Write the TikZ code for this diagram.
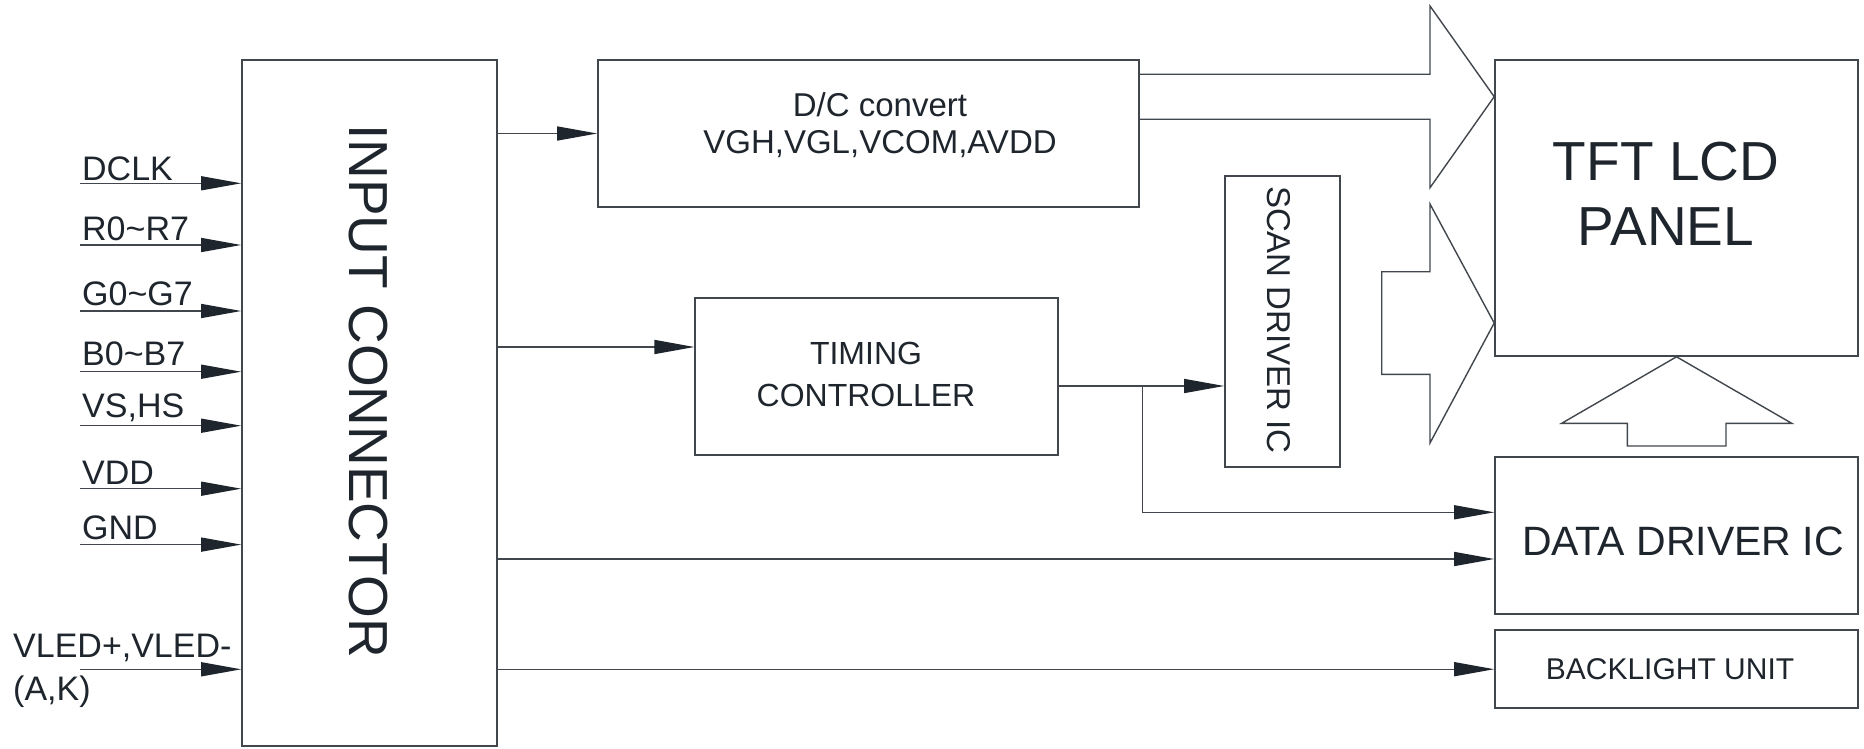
\documentclass[tikz,border=0pt]{standalone}
\usepackage{fontspec}
\setmainfont{Liberation Sans}
\usetikzlibrary{arrows.meta}

\definecolor{ink}{HTML}{1E252C}
\definecolor{wire}{HTML}{41474D}

\tikzset{
  blk/.style={draw=wire, line width=1.6pt, inner sep=0pt},
  txt/.style={text=ink, inner sep=0pt, align=center},
  sig/.style={draw=wire, line width=1.4pt, -{Triangle[length=40pt,width=14pt,color=ink]}},
  bigarrow/.style={draw=wire, line width=1.4pt, line join=miter},
}
\newcommand{\fsz}[2]{\fontsize{#1}{#2}\selectfont}

\begin{document}
\begin{tikzpicture}[x=1pt,y=-1pt]

    \path[use as bounding box, fill=white] (0,0) rectangle (1864,749);

    %% Blocks

    % Input connector
    \node[blk, minimum width=255pt, minimum height=686pt] (conn) at (369.5,403) {};
    \node[txt, rotate=-90, font=\fsz{55}{66}] (connlbl) at (368,391) {INPUT CONNECTOR};

    % D/C converter
    \node[blk, minimum width=541pt, minimum height=147pt] (dc) at (868.5,133.5) {};
    \node[txt, font=\fsz{33}{37.3}] (dclbl) at (880,125) {D/C convert\\VGH,VGL,VCOM,AVDD};

    % Timing controller
    \node[blk, minimum width=363pt, minimum height=157pt] (tim) at (876.7,376.7) {};
    \node[txt, font=\fsz{32}{42.3}] (timlbl) at (866,374.5) {TIMING\\CONTROLLER};

    % Scan driver
    \node[blk, minimum width=115pt, minimum height=291pt] (scan) at (1282.5,321.7) {};
    \node[txt, rotate=-90, font=\fsz{33}{40}] (scanlbl) at (1279,320) {SCAN DRIVER IC};

    % Panel, data driver, backlight
    \node[blk, minimum width=363pt, minimum height=296pt] (tft) at (1676.5,208) {};
    \node[txt, font=\fsz{55}{65.7}] (tftlbl) at (1666,193.7) {TFT LCD\\PANEL};
    \node[blk, minimum width=363pt, minimum height=157pt] (drv) at (1676.5,535.7) {};
    \node[txt, font=\fsz{41}{48}] (drvlbl) at (1683,541) {DATA DRIVER IC};
    \node[blk, minimum width=363pt, minimum height=78pt] (bl) at (1676.5,669.2) {};
    \node[txt, font=\fsz{30}{36}] (bllbl) at (1670,669.2) {BACKLIGHT UNIT};

    %% Inputs

    % Signal names
    \node[txt, anchor=base west, font=\fsz{34}{40}] (dclk) at (82,180) {DCLK};
    \node[txt, anchor=base west, font=\fsz{34}{40}] (red) at (82,240) {R0\textasciitilde R7};
    \node[txt, anchor=base west, font=\fsz{34}{40}] (green) at (82,305) {G0\textasciitilde G7};
    \node[txt, anchor=base west, font=\fsz{34}{40}] (blue) at (82,365) {B0\textasciitilde B7};
    \node[txt, anchor=base west, font=\fsz{34}{40}] (sync) at (82,417) {VS,HS};
    \node[txt, anchor=base west, font=\fsz{34}{40}] (vdd) at (82,484) {VDD};
    \node[txt, anchor=base west, font=\fsz{34}{40}] (gnd) at (82,539) {GND};
    \node[txt, anchor=base west, align=left, font=\fsz{34}{43}] (vled) at (13,700) {VLED+,VLED-\\(A,K)};

    % Input lines
    \coordinate (in1) at (80,183.3);
    \coordinate (in2) at (80,245);
    \coordinate (in3) at (80,311);
    \coordinate (in4) at (80,371.7);
    \coordinate (in5) at (80,425.7);
    \coordinate (in6) at (80,488.7);
    \coordinate (in7) at (80,544.6);
    \coordinate (in8) at (80,669.3);
    \draw[sig] (in1) -- (in1 -| conn.west);
    \draw[sig] (in2) -- (in2 -| conn.west);
    \draw[sig] (in3) -- (in3 -| conn.west);
    \draw[sig] (in4) -- (in4 -| conn.west);
    \draw[sig] (in5) -- (in5 -| conn.west);
    \draw[sig] (in6) -- (in6 -| conn.west);
    \draw[sig] (in7) -- (in7 -| conn.west);
    \draw[sig] (in8) -- (in8 -| conn.west);

    %% Connections

    \draw[sig] (conn.east |- dc.west) -- (dc.west);
    \draw[sig] (conn.east |- 0,347) -- (tim.west |- 0,347);
    \draw[sig] (conn.east |- 0,559) -- (drv.west |- 0,559);
    \draw[sig] (conn.east |- bl.west) -- (bl.west);
    \draw[sig] (tim.east |- 0,386) -- (scan.west |- 0,386);
    \coordinate (br) at (1142.3,386);
    \draw[sig] (br) |- (drv.west |- 0,512.3);

    %% Bus arrows

    % D/C to panel
    \draw[bigarrow] (dc.east |- 0,74.3) -- (1430,74.3) -- (1430,6) -- (tft.west |- 0,96.7)
        -- (1430,187.7) -- (1430,119.3) -- (dc.east |- 0,119.3);
    % Scan driver to panel
    \draw[bigarrow] (1381.7,271.7) -- (1430,271.7) -- (1430,204) -- (tft.west |- 0,323)
        -- (1430,443) -- (1430,374.3) -- (1381.7,374.3) -- cycle;
    % Data driver to panel
    \draw[bigarrow] (1627.3,446) -- (1627.3,423.3) -- (1561.7,423.3) -- (tft.south)
        -- (1791.7,423.3) -- (1726,423.3) -- (1726,446) -- cycle;

\end{tikzpicture}
\end{document}
